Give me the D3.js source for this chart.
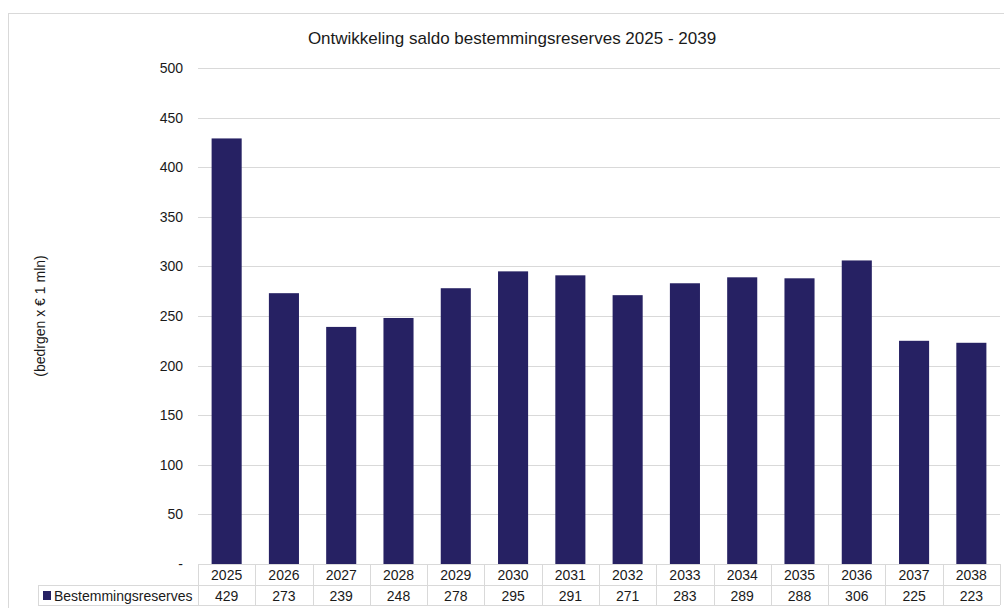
<!DOCTYPE html>
<html><head><meta charset="utf-8">
<script src="https://cdn.jsdelivr.net/npm/d3@7/dist/d3.min.js"></script>
<style>body{margin:0;background:#fff;} text{font-family:"Liberation Sans",Arial,sans-serif;fill:#1a1a1a;}</style>
</head><body><svg id="c" width="1004" height="608"></svg>
<script>
const years = ["2025","2026","2027","2028","2029","2030","2031","2032","2033","2034","2035","2036","2037","2038"];
const values = [429,273,239,248,278,295,291,271,283,289,288,306,225,223];
const yTicks = [0,50,100,150,200,250,300,350,400,450,500];
const seriesName = "Bestemmingsreserves";
const title = "Ontwikkeling saldo bestemmingsreserves 2025 - 2039";
const yTitle = "(bedrgen x € 1 mln)";

const svg = d3.select("#c");
const L = 198, R = 1000, T = 68, B = 564;
const barColor = "#262163";

svg.append("rect").attr("x",8.5).attr("y",13.5).attr("width",1010).attr("height",620)
  .attr("fill","#fff").attr("stroke","#d9d9d9");

const x = d3.scaleBand().domain(years).range([L,R]).paddingInner(0.475).paddingOuter(0.2375);
const xc = d3.scaleBand().domain(years).range([L,R]);
const y = d3.scaleLinear().domain([0,500]).range([B,T]);

// gridlines
svg.append("g").selectAll("line").data(yTicks.filter(d=>d>0)).join("line")
  .attr("x1",L).attr("x2",R).attr("y1",d=>Math.round(y(d))+0.5).attr("y2",d=>Math.round(y(d))+0.5)
  .attr("stroke","#d9d9d9").attr("stroke-width",1);

// y labels
svg.append("g").selectAll("text").data(yTicks).join("text")
  .attr("x",183).attr("y",d=>y(d)+5).attr("text-anchor","end").attr("font-size",14)
  .text(d=>d===0?"-":d);

// bars
svg.append("g").selectAll("rect").data(values).join("rect")
  .attr("x",(d,i)=>x(years[i])).attr("width",x.bandwidth())
  .attr("y",d=>y(d)).attr("height",d=>B-y(d)).attr("fill",barColor);

// data table
const r1 = B, r2 = 585, r3 = 605, tl = 38;
const tg = svg.append("g").attr("stroke","#d9d9d9").attr("stroke-width",1).attr("fill","none");
tg.append("line").attr("x1",L).attr("x2",R).attr("y1",r1+0.5).attr("y2",r1+0.5);
tg.append("line").attr("x1",tl).attr("x2",R).attr("y1",r2+0.5).attr("y2",r2+0.5);
tg.append("line").attr("x1",tl).attr("x2",R).attr("y1",r3+0.5).attr("y2",r3+0.5);
tg.append("line").attr("x1",tl+0.5).attr("x2",tl+0.5).attr("y1",r2).attr("y2",r3);
tg.selectAll("line.v").data(years.concat(["end"])).join("line").attr("class","v")
  .attr("x1",(d,i)=>Math.round(L+i*xc.step())+0.5).attr("x2",(d,i)=>Math.round(L+i*xc.step())+0.5)
  .attr("y1",r1).attr("y2",r3);

svg.append("g").selectAll("text").data(years).join("text")
  .attr("x",d=>xc(d)+xc.bandwidth()/2).attr("y",r1+16).attr("text-anchor","middle").attr("font-size",14)
  .text(d=>d);
svg.append("g").selectAll("text").data(values).join("text")
  .attr("x",(d,i)=>xc(years[i])+xc.bandwidth()/2).attr("y",r2+16).attr("text-anchor","middle").attr("font-size",14)
  .text(d=>d);

svg.append("rect").attr("x",43).attr("y",r2+6).attr("width",8).attr("height",9).attr("fill",barColor);
svg.append("text").attr("x",54).attr("y",r2+16).attr("font-size",14).text(seriesName);

// title
svg.append("text").attr("x",512).attr("y",44).attr("text-anchor","middle").attr("font-size",17).text(title);

// y title
svg.append("text").attr("transform","translate(45,316) rotate(-90)").attr("text-anchor","middle")
  .attr("font-size",14).text(yTitle);
</script></body></html>
